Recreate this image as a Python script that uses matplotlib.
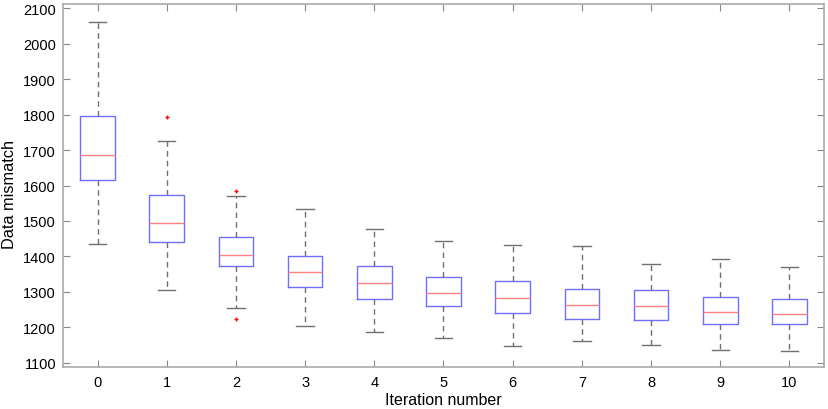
import matplotlib
matplotlib.use("Agg")
import matplotlib.pyplot as plt

plt.rcParams['font.family'] = ['Liberation Sans', 'DejaVu Sans']

iterations = [0, 1, 2, 3, 4, 5, 6, 7, 8, 9, 10]
whislo = [1434, 1304, 1254, 1203, 1186, 1171, 1146, 1160, 1151, 1136, 1134]
q1 = [1615, 1441, 1372, 1314, 1281, 1261, 1240, 1222, 1220, 1210, 1208]
med = [1687, 1494, 1404, 1356, 1325, 1297, 1283, 1263, 1261, 1243, 1238]
q3 = [1796, 1572, 1456, 1401, 1373, 1342, 1331, 1307, 1304, 1286, 1281]
whishi = [2062, 1725, 1571, 1535, 1477, 1443, 1432, 1430, 1379, 1392, 1370]
fliers = [[], [1793], [1585, 1223], [], [], [], [], [], [], [], []]

stats = []
for i in range(len(iterations)):
    stats.append(dict(whislo=whislo[i], q1=q1[i], med=med[i], q3=q3[i],
                      whishi=whishi[i], fliers=fliers[i], label=str(iterations[i])))

fig = plt.figure(figsize=(8.29, 4.10), dpi=100)
ax = fig.add_axes([63/829, 42/410, (824-63)/829, (368-5)/410])

ax.bxp(stats, positions=iterations, widths=0.5,
       boxprops=dict(color='#7070ff', linewidth=1.0),
       medianprops=dict(color='#ff8080', linewidth=1.0),
       whiskerprops=dict(color='#707070', linewidth=1.0, linestyle=(0, (4, 3))),
       capprops=dict(color='#707070', linewidth=1.0),
       flierprops=dict(marker='+', markeredgecolor='red', markersize=3, linewidth=0))

ax.set_xlim(-0.5, 10.5)
ax.set_ylim(1088, 2112)
ax.set_xticks(iterations)
ax.set_xticklabels([str(i) for i in iterations])
ax.set_yticks(range(1100, 2101, 100))
ax.tick_params(direction='in', top=True, right=True, colors='#888888',
               labelcolor='black', labelsize=10.5, length=5)
ax.tick_params(axis='x', pad=6)
ax.tick_params(axis='y', pad=5)
for s in ax.spines.values():
    s.set_color('#aaaaaa')
    s.set_linewidth(1.2)
ax.set_xlabel('Iteration number', fontsize=11.5, labelpad=2)
ax.set_ylabel('Data mismatch', fontsize=11.8)
ax.yaxis.set_label_coords(-0.061, 0.477)

fig.savefig('out.png', dpi=100)
